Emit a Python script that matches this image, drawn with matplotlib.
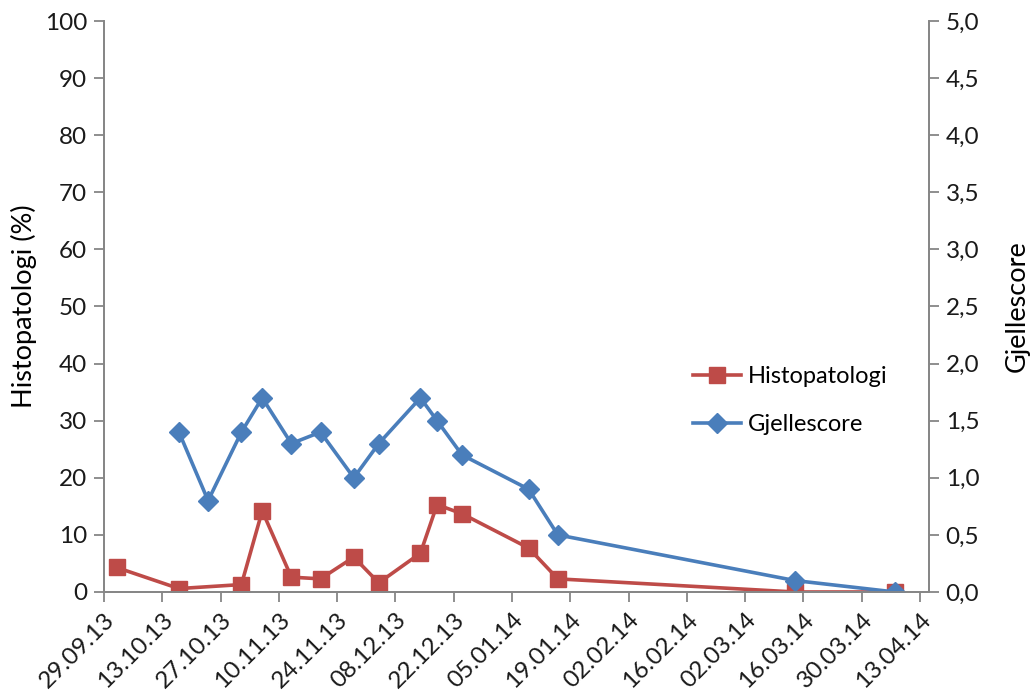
import matplotlib
matplotlib.use("Agg")
import matplotlib.pyplot as plt
import matplotlib.dates as mdates
from matplotlib.ticker import FuncFormatter, MultipleLocator
import datetime as dt

plt.rcParams['font.family'] = ['Lato', 'DejaVu Sans']

# data
histo_dates = ["2013-10-02", "2013-10-17", "2013-11-01", "2013-11-06", "2013-11-13",
               "2013-11-20", "2013-11-28", "2013-12-04", "2013-12-14", "2013-12-18",
               "2013-12-24", "2014-01-09", "2014-01-16", "2014-03-14", "2014-04-07"]
histo_vals = [4.3, 0.6, 1.3, 14.2, 2.6, 2.3, 6.1, 1.6, 6.8, 15.3, 13.7, 7.7, 2.3, 0.0, 0.0]

gjelle_dates = ["2013-10-17", "2013-10-24", "2013-11-01", "2013-11-06", "2013-11-13",
                "2013-11-20", "2013-11-28", "2013-12-04", "2013-12-14", "2013-12-18",
                "2013-12-24", "2014-01-09", "2014-01-16", "2014-03-14", "2014-04-07"]
gjelle_vals = [1.4, 0.8, 1.4, 1.7, 1.3, 1.4, 1.0, 1.3, 1.7, 1.5, 1.2, 0.9, 0.5, 0.1, 0.0]

red = "#BE4B48"
blue = "#4A7EBB"
grey = "#868686"

def to_dt(lst):
    return [dt.datetime.strptime(s, "%Y-%m-%d") for s in lst]

fig = plt.figure(figsize=(10.32, 7.0), dpi=100)
ax = fig.add_axes([0.1008, 0.1543, 0.7994, 0.8157])
ax2 = ax.twinx()

ax.plot(to_dt(histo_dates), histo_vals, color=red, lw=2.6, marker='s', ms=11,
        label="Histopatologi")
ax2.plot(to_dt(gjelle_dates), gjelle_vals, color=blue, lw=2.6, marker='D', ms=10.5,
         label="Gjellescore")

start = dt.datetime(2013, 9, 29)
ticks = [start + dt.timedelta(days=14 * i) for i in range(15)]
ax.set_xlim(start, dt.datetime(2014, 4, 15, 4))
ax.set_xticks(ticks)
ax.xaxis.set_major_formatter(mdates.DateFormatter("%d.%m.%y"))
plt.setp(ax.get_xticklabels(), rotation=45, ha='right', rotation_mode='anchor')

ax.set_ylim(0, 100)
ax.yaxis.set_major_locator(MultipleLocator(10))
ax2.set_ylim(0, 5)
ax2.yaxis.set_major_locator(MultipleLocator(0.5))
ax2.yaxis.set_major_formatter(FuncFormatter(lambda v, p: f"{v:.1f}".replace(".", ",")))

for a in (ax, ax2):
    a.spines['top'].set_visible(False)
    for s in ('left', 'right', 'bottom'):
        a.spines[s].set_color(grey)
        a.spines[s].set_linewidth(1.3)
    a.tick_params(direction='out', length=7, width=1.3, color=grey,
                  labelsize=17.5, labelcolor='#1a1a1a', pad=5)

ax.set_ylabel("Histopatologi (%)", fontsize=19.5, labelpad=6)
ax2.set_ylabel("Gjellescore", fontsize=19.5, labelpad=18)

h1, l1 = ax.get_legend_handles_labels()
h2, l2 = ax2.get_legend_handles_labels()
ax2.legend(h1 + h2, l1 + l2, loc='upper left', bbox_to_anchor=(0.703, 0.412),
           frameon=False, fontsize=17, handlelength=2.0, handletextpad=0.3,
           labelspacing=1.15, borderaxespad=0)

fig.savefig("out.png", dpi=100)
